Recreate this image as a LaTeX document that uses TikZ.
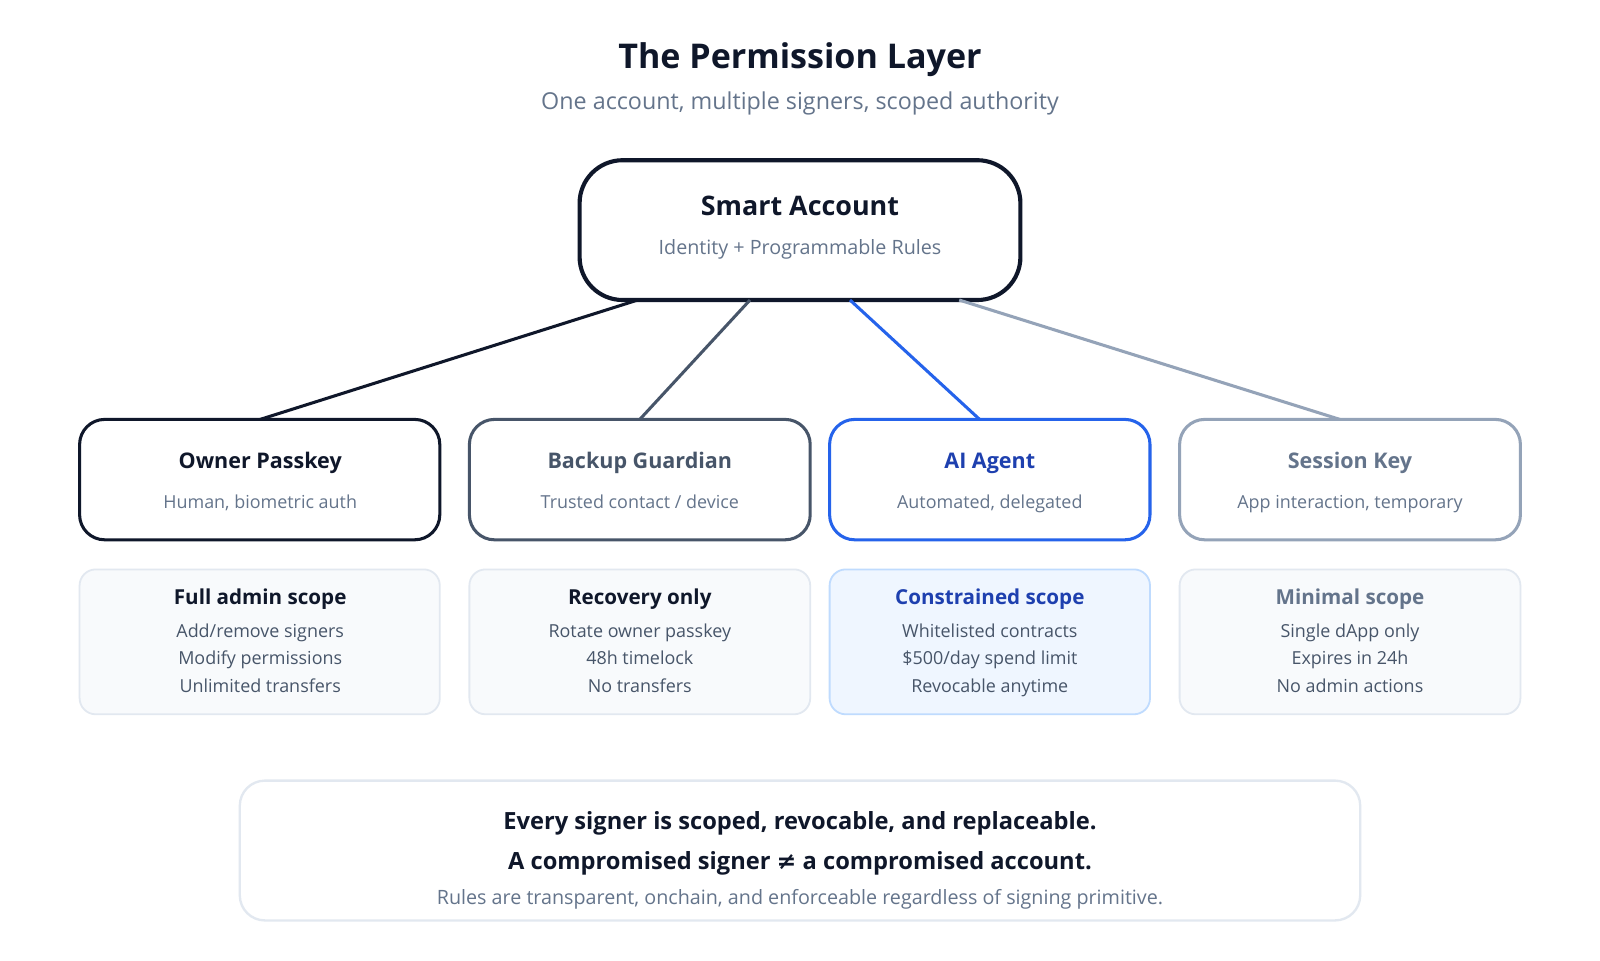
\documentclass[tikz,border=0pt]{standalone}
\usepackage{fontspec}
\setmainfont{Open Sans}
\usetikzlibrary{positioning}
\definecolor{ink}{HTML}{0F172A}
\definecolor{slate}{HTML}{475569}
\definecolor{muted}{HTML}{64748B}
\definecolor{pale}{HTML}{94A3B8}
\definecolor{agent}{HTML}{2563EB}
\definecolor{agentdk}{HTML}{1E40AF}
\definecolor{line}{HTML}{E2E8F0}
\definecolor{card}{HTML}{F8FAFC}
\definecolor{bluecard}{HTML}{EFF6FF}
\definecolor{blueline}{HTML}{BFDBFE}
\tikzset{
  signer/.style={rounded corners=14pt, line width=1.7pt},
  card/.style={draw=line, fill=card, rounded corners=9pt, line width=1pt},
  ttl/.style={font=\bfseries\fontsize{12}{14}\selectfont, text height=1.6ex, text depth=.4ex},
  sub/.style={font=\fontsize{10}{12}\selectfont, text=muted, text height=1.6ex, text depth=.4ex},
  link/.style={line width=1.7pt}
}
\begin{document}
\begin{tikzpicture}[x=0.02cm,y=-0.02cm]
  \useasboundingbox (0,0) rectangle (1568,941);
  \fill[white] (0,0) rectangle (1568,941);

  % title
  \node[font=\bfseries\fontsize{19}{22}\selectfont, text=ink] (title) at (784,58) {The Permission Layer};
  \node[font=\fontsize{13}{15}\selectfont, text=muted] (subtitle) at (784,101) {One account, multiple signers, scoped authority};

  % smart account
  \draw[draw=ink, line width=2.3pt, rounded corners=24pt] (568,157) rectangle (1000,294);
  \node[ttl, font=\bfseries\fontsize{15}{18}\selectfont, text=ink] (sa) at (784,206) {Smart Account};
  \node[sub, font=\fontsize{11}{13}\selectfont] (sasub) at (784,244) {Identity + Programmable Rules};

  % signers
  \draw[signer, draw=ink] (78,411) rectangle (431,529);
  \draw[signer, draw=slate] (460,411) rectangle (794,529);
  \draw[signer, draw=agent] (813,411) rectangle (1127,529);
  \draw[signer, draw=pale] (1156,411) rectangle (1490,529);
  \node[ttl, text=ink] (owner) at (255,453) {Owner Passkey};
  \node[sub] at (255,493) {Human, biometric auth};
  \node[ttl, text=slate] (guard) at (627,453) {Backup Guardian};
  \node[sub] at (627,493) {Trusted contact / device};
  \node[ttl, text=agentdk] (ai) at (970,453) {AI Agent};
  \node[sub] at (970,493) {Automated, delegated};
  \node[ttl, text=muted] (session) at (1323,453) {Session Key};
  \node[sub] at (1323,493) {App interaction, temporary};

  % connectors
  \coordinate (sa1) at (625,294); \coordinate (ow) at (255,411);
  \coordinate (sa2) at (735,294); \coordinate (gu) at (627,411);
  \coordinate (sa3) at (833,294); \coordinate (ag) at (960,411);
  \coordinate (sa4) at (940,294); \coordinate (se) at (1313,411);
  \draw[link, ink] (sa1) -- (ow);
  \draw[link, slate] (sa2) -- (gu);
  \draw[link, agent] (sa3) -- (ag);
  \draw[link, pale] (sa4) -- (se);

  % scopes
  \draw[card] (78,558) rectangle (431,700);
  \draw[card] (460,558) rectangle (794,700);
  \draw[card, draw=blueline, fill=bluecard] (813,558) rectangle (1127,700);
  \draw[card] (1156,558) rectangle (1490,700);
  \foreach \x/\c/\t/\a/\b/\d [count=\i] in {
    255/ink/Full admin scope/Add\slash remove signers/Modify permissions/Unlimited transfers,
    627/ink/Recovery only/Rotate owner passkey/48h timelock/No transfers,
    970/agentdk/Constrained scope/Whitelisted contracts/\$500\slash day spend limit/Revocable anytime,
    1323/muted/Minimal scope/Single dApp only/Expires in 24h/No admin actions} {
    \node[ttl, font=\bfseries\fontsize{11.5}{13}\selectfont, text=\c] (scope\i) at (\x,587) {\t};
    \node[sub, text=slate] at (\x,619) {\a};
    \node[sub, text=slate] at (\x,646) {\b};
    \node[sub, text=slate] at (\x,673) {\d};
  }

  % summary
  \draw[draw=line, line width=1.3pt, rounded corners=14pt] (235,765) rectangle (1333,902);
  \node[ttl, font=\bfseries\fontsize{13.2}{15}\selectfont, text=ink] (sum1) at (784,807) {Every signer is scoped, revocable, and replaceable.};
  \node[ttl, font=\bfseries\fontsize{13.2}{15}\selectfont, text=ink] (sum2) at (784,846) {A compromised signer {\fontspec{DejaVu Sans}≠} a compromised account.};
  \node[sub, font=\fontsize{11}{13}\selectfont] (sum3) at (784,881) {Rules are transparent, onchain, and enforceable regardless of signing primitive.};
\end{tikzpicture}
\end{document}
